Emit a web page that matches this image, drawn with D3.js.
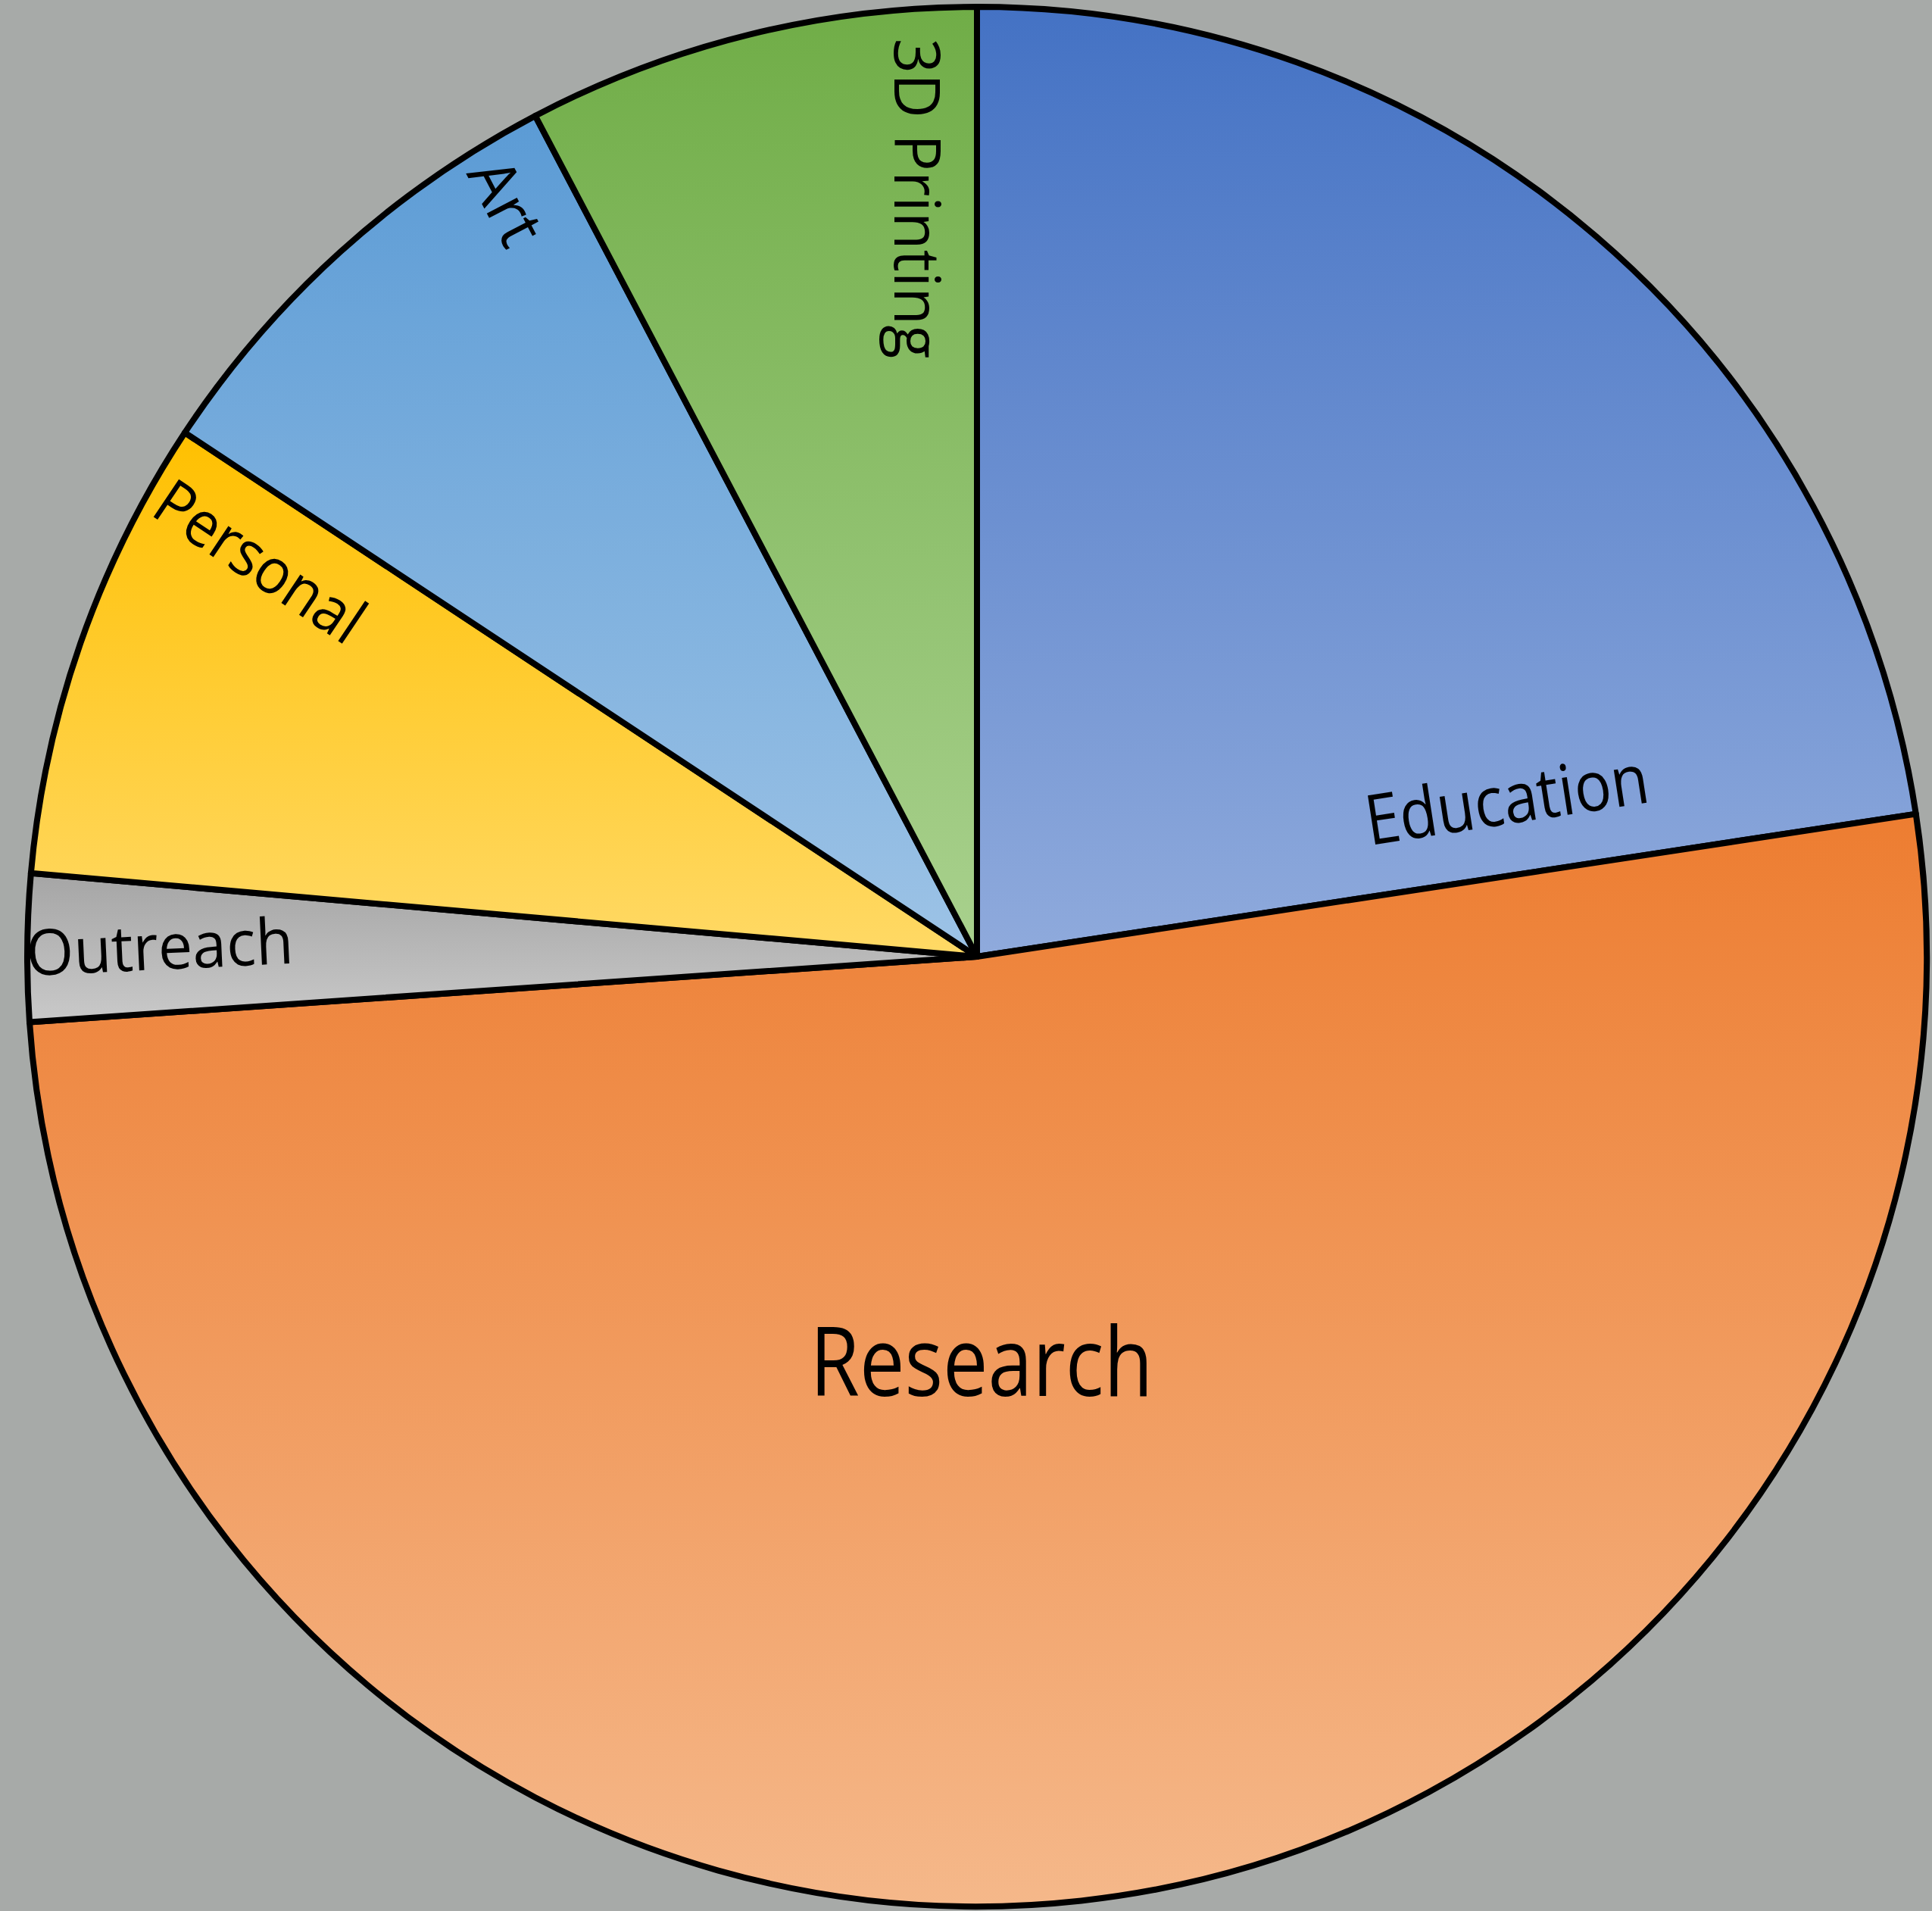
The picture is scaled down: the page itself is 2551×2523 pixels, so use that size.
<!DOCTYPE html>
<html>
  <head>
    <meta charset="utf-8">
    <title>Pie</title>
    <script src="https://cdnjs.cloudflare.com/ajax/libs/d3/7.8.5/d3.min.js" charset="utf-8"></script>
    <style>
      body { margin: 0; background: #a7aaa8; }
    </style>
  </head>

  <body>
    <div id="chart"></div>
    <script>

// data
var categories = ["Education", "Research", "Outreach", "Personal", "Art", "3D Printing"];
var shares = [22.6, 51.3, 2.5, 7.9, 8.0, 7.7];
var topColors = ["#4472c4", "#ed7d31", "#a5a5a5", "#ffc000", "#5b9bd5", "#70ad47"];
var bottomColors = ["#8faadc", "#f5b88a", "#c9c9c9", "#ffd966", "#9dc3e6", "#a9d18e"];

// label placement: polar position (deg clockwise from top, radius px), rotation, size, length
var labelAngle = [76.0, 179.4, 269.1, 297.3, 326.6, 353.8];
var labelRadius = [726, 580, 1078, 1084, 1177, 1007];
var labelRotate = [-8.8, 0, -2.7, 33.9, 62.4, 90];
var labelSize = [92, 126, 84, 84, 84, 84];
var labelLength = [377, 453, 353, 314, 116, 423];

window.addEventListener("load", run);

function run () {
    var width = 2551, height = 2523;
    var cx = 1290, cy = 1263, R = 1254;

    var svg = d3.select("#chart").append("svg")
        .attr("width", width)
        .attr("height", height);

    svg.append("rect")
        .attr("width", width)
        .attr("height", height)
        .attr("fill", "#a7aaa8");

    var defs = svg.append("defs");
    categories.forEach(function(c, i) {
        var g = defs.append("linearGradient")
            .attr("id", "grad" + i)
            .attr("x1", 0).attr("y1", 0)
            .attr("x2", 0).attr("y2", 1);
        g.append("stop").attr("offset", "0%").attr("stop-color", topColors[i]);
        g.append("stop").attr("offset", "100%").attr("stop-color", bottomColors[i]);
    });

    var rows = categories.map(function(c, i) { return {name: c, value: shares[i], i: i}; });

    var pie = d3.pie()
        .sort(null)
        .value(function(d) { return d.value; });

    var arc = d3.arc()
        .innerRadius(0)
        .outerRadius(R);

    var g = svg.append("g")
        .attr("transform", "translate(" + cx + "," + cy + ")");

    g.selectAll("path.slice")
        .data(pie(rows))
        .enter()
        .append("path")
        .attr("class", "slice")
        .attr("d", arc)
        .attr("fill", function(d) { return "url(#grad" + d.data.i + ")"; })
        .attr("stroke", "#000")
        .attr("stroke-width", 8)
        .attr("stroke-linejoin", "round");

    g.selectAll("text.label")
        .data(rows)
        .enter()
        .append("text")
        .attr("class", "label")
        .attr("transform", function(d) {
            var a = labelAngle[d.i] * Math.PI / 180;
            var x = labelRadius[d.i] * Math.sin(a);
            var y = -labelRadius[d.i] * Math.cos(a);
            return "translate(" + x + "," + y + ") rotate(" + labelRotate[d.i] + ")";
        })
        .attr("text-anchor", "middle")
        .attr("font-family", "'Open Sans', 'Noto Sans', sans-serif")
        .attr("font-size", function(d) { return labelSize[d.i]; })
        .attr("textLength", function(d) { return labelLength[d.i]; })
        .attr("lengthAdjust", "spacingAndGlyphs")
        .attr("fill", "#000")
        .text(function(d) { return d.name; });
}

    </script>
  </body>
</html>
